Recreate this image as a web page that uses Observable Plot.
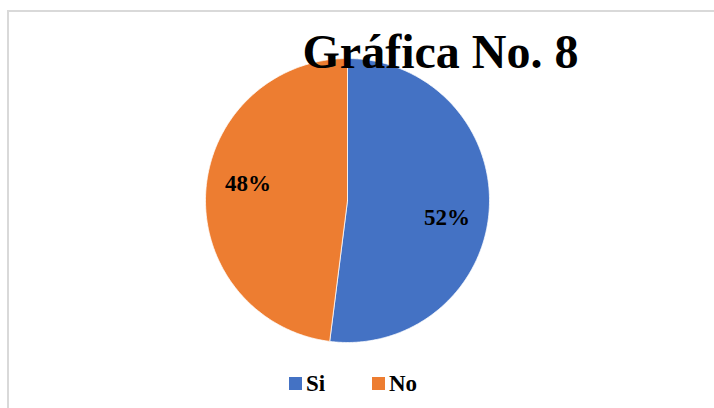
<!DOCTYPE html>
<html><head><meta charset="utf-8">
<script src="https://cdn.jsdelivr.net/npm/d3@7"></script>
<script src="https://cdn.jsdelivr.net/npm/@observablehq/plot@0.6"></script>
<style>
html,body{margin:0;padding:0;background:#fff;}
#wrap{position:relative;width:714px;height:408px;overflow:hidden;font-family:"Liberation Serif",serif;}
#frame{position:absolute;left:7px;top:10px;width:800px;height:500px;border-left:2px solid #d9d9d9;border-top:2px solid #d9d9d9;}
#chart{position:absolute;left:0;top:0;}
.leg{position:absolute;font-family:"Liberation Serif",serif;font-weight:bold;font-size:23px;line-height:23px;color:#000;white-space:nowrap;}
.sw{position:absolute;width:13px;height:13px;}
</style></head><body>
<div id="wrap"><div id="frame"></div><div id="chart"></div><div id="legend"></div></div>
<script>
const title = "Gráfica No. 8";
const categories = ["Si", "No"];
const values = [52, 48];
const percentLabels = ["52%", "48%"];
const colors = ["#4472C4", "#ED7D31"];

const FONT = "Liberation Serif";
const W = 714, H = 408, cx = 347, cy = 200, R = 142;
const arcs = d3.pie().sort(null).value(d => d)(values);
const poly = [];
arcs.forEach((a, i) => {
  const n = Math.max(2, Math.ceil((a.endAngle - a.startAngle) / 0.01));
  poly.push({cat: categories[i], x: 0, y: 0});
  for (let k = 0; k <= n; k++) {
    const t = a.startAngle + (a.endAngle - a.startAngle) * k / n;
    poly.push({cat: categories[i], x: Math.sin(t), y: Math.cos(t)});
  }
  poly.push({cat: categories[i], x: 0, y: 0});
});
const labelShift = 6 * Math.PI / 180, labelR = 101 / R;
const labels = arcs.map((a, i) => {
  const t = (a.startAngle + a.endAngle) / 2 + labelShift;
  return {text: percentLabels[i], x: labelR * Math.sin(t), y: labelR * Math.cos(t)};
});

const plot = Plot.plot({
  width: W, height: H, margin: 0,
  x: {domain: [-cx / R, (W - cx) / R], axis: null},
  y: {domain: [-(H - cy) / R, cy / R], axis: null},
  color: {domain: categories, range: colors},
  style: {background: "transparent", fontFamily: FONT},
  marks: [
    Plot.line(poly, {x: "x", y: "y", z: "cat", fill: "cat", stroke: "white", strokeWidth: 0.75, curve: "linear"}),
    Plot.text(labels, {x: "x", y: "y", text: "text", fontFamily: FONT, fontSize: 23, fontWeight: "bold", fill: "#000", lineAnchor: "middle"}),
    Plot.text([title], {text: d => d, frameAnchor: "top-left", dx: 440, dy: 67, textAnchor: "middle", lineAnchor: "bottom", fontFamily: FONT, fontSize: 48, fontWeight: "bold", fill: "#000"})
  ]
});
document.getElementById("chart").appendChild(plot);

const legend = document.getElementById("legend");
const legX = [289, 372];
categories.forEach((c, i) => {
  const sw = document.createElement("div");
  sw.className = "sw";
  sw.style.left = legX[i] + "px";
  sw.style.top = "377px";
  sw.style.background = colors[i];
  legend.appendChild(sw);
  const t = document.createElement("div");
  t.className = "leg";
  t.style.left = (legX[i] + 17) + "px";
  t.style.top = "372px";
  t.textContent = c;
  legend.appendChild(t);
});
</script>
</body></html>
